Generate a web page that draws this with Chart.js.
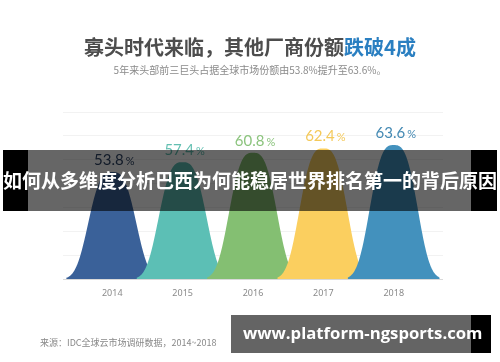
<!DOCTYPE html>
<html><head><meta charset="utf-8">
<script src="https://cdn.jsdelivr.net/npm/chart.js@4.4.0/dist/chart.umd.min.js"></script>
<style>
html,body{margin:0;padding:0;background:#fff;}
#wrap{position:relative;width:500px;height:362px;overflow:hidden;background:#fff;font-family:"Noto Sans CJK SC","Noto Sans",sans-serif;}
#c{position:absolute;left:0;top:0;}
.title{position:absolute;left:0;width:500px;top:34px;text-align:center;font-size:20px;font-weight:700;color:#4d4d4d;line-height:26px;white-space:nowrap;}
.title span{color:#2a7fc1;}
.sub{position:absolute;left:0;width:500px;top:63px;text-align:center;font-size:10px;color:#8a8a8a;line-height:14px;white-space:nowrap;}
.banner{position:absolute;left:3px;width:494px;top:150px;height:61px;background:rgba(0,0,0,0.6);}
.banner .l{position:absolute;left:0;top:0;width:25px;height:100%;background:#000;}
.banner .r{position:absolute;right:0;top:0;width:26px;height:100%;background:#000;}
.banner .t{position:absolute;left:0;width:100%;top:16px;line-height:28px;text-align:center;color:#fff;font-weight:700;font-size:19px;white-space:nowrap;}
.src{position:absolute;left:40px;top:337px;font-size:9px;line-height:12px;color:#888;white-space:nowrap;}
.wm{position:absolute;left:231px;top:315px;width:260px;height:38px;background:#646464;}
.wm .r{position:absolute;right:0;top:0;width:20px;height:100%;background:#000;}
.wm .t{position:absolute;left:12px;top:0;line-height:36px;color:#fff;font-weight:700;font-size:16.7px;font-family:"Open Sans",sans-serif;white-space:nowrap;}
</style></head>
<body>
<div id="wrap">
<canvas id="c" width="500" height="362"></canvas>
<div class="title">寡头时代来临，其他厂商份额<span>跌破4成</span></div>
<div class="sub">5年来头部前三巨头占据全球市场份额由53.8%提升至63.6%。</div>
<div class="banner"><div class="l"></div><div class="r"></div><div class="t">如何从多维度分析巴西为何能稳居世界排名第一的背后原因</div></div>
<div class="src">来源：IDC全球云市场调研数据，2014~2018</div>
<div class="wm"><div class="r"></div><div class="t">www.platform-ngsports.com</div></div>
</div>
<script>
const years = [2014, 2015, 2016, 2017, 2018];
const shares = [53.8, 57.4, 60.8, 62.4, 63.6];
const bellColors = ['#3a6199', '#5cbfb5', '#84bf72', '#fbcf5f', '#4391bd'];
const labelColors = ['#2f4566', '#62bfb1', '#8cc47e', '#f4c95a', '#4389b3'];

const bellPlugin = {
  id: 'bells',
  afterDatasetsDraw(chart) {
    const meta = chart.getDatasetMeta(0);
    const xs = chart.scales.x, ys = chart.scales.y;
    const step = xs.getPixelForValue(years[1]) - xs.getPixelForValue(years[0]);
    const s = step * 0.395, p = 3, reach = s * 1.65;
    const base = ys.getPixelForValue(ys.min);
    const ctx = chart.ctx;
    ctx.save();
    meta.data.forEach((el, i) => {
      const cx = el.x, top = el.y, h = base - top;
      ctx.beginPath();
      ctx.moveTo(cx - reach, base);
      for (let d = -reach; d <= reach; d += 0.5) {
        ctx.lineTo(cx + d, base - h * Math.exp(-Math.pow(Math.abs(d) / s, p)));
      }
      ctx.lineTo(cx + reach, base);
      ctx.closePath();
      ctx.fillStyle = bellColors[i];
      ctx.fill();
    });
    meta.data.forEach((el, i) => {
      const num = shares[i].toFixed(1);
      ctx.font = '15px Lato'; const w1 = ctx.measureText(num).width;
      ctx.font = '11px Lato'; const w2 = ctx.measureText('%').width;
      const gap = 2;
      const start = el.x - (w1 + gap + w2) / 2 + 2;
      const y = el.y - 7;
      ctx.fillStyle = labelColors[i];
      ctx.textBaseline = 'alphabetic'; ctx.textAlign = 'left';
      ctx.font = '15px Lato'; ctx.fillText(num, start, y);
      ctx.font = '11px Lato'; ctx.fillText('%', start + w1 + gap, y);
    });
    ctx.restore();
  }
};

new Chart(document.getElementById('c'), {
  type: 'bar',
  data: {
    datasets: [{
      data: years.map((yr, i) => ({ x: yr, y: shares[i] })),
      backgroundColor: 'rgba(0,0,0,0)',
      borderWidth: 0
    }]
  },
  options: {
    responsive: false,
    devicePixelRatio: 1,
    animation: false,
    layout: { padding: { left: 63, right: 57, top: 112, bottom: 63 } },
    plugins: { legend: { display: false }, tooltip: { enabled: false } },
    scales: {
      x: {
        type: 'linear', min: 2013.3, max: 2018.7, offset: false,
        grid: { display: false, drawTicks: false },
        border: { display: false },
        ticks: { stepSize: 1, includeBounds: false, padding: 9, color: '#8a8a8a',
          font: { size: 9, family: 'Noto Sans' },
          callback: v => Number.isInteger(v) ? String(v) : '' },
        afterFit: s => { s.height = 20; }
      },
      y: {
        min: 15, max: 75.6,
        grid: { drawTicks: false, color: ctx => ctx.index === 0 ? '#d9d9d9' : '#f2f2f2' },
        border: { display: false },
        ticks: { display: false, count: 8 },
        afterFit: s => { s.width = 0; }
      }
    }
  },
  plugins: [bellPlugin]
});
</script>
</body></html>
